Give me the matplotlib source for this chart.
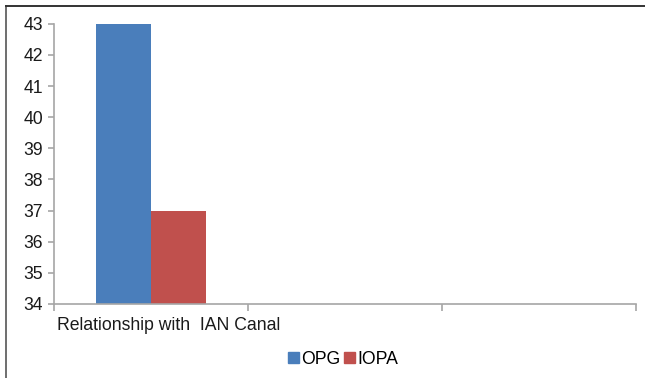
import numpy as np
import matplotlib.pyplot as plt
from matplotlib.lines import Line2D
from matplotlib.patches import Patch

plt.rcParams['font.family'] = ['Liberation Sans', 'DejaVu Sans']

# data
categories = ["Relationship with  IAN Canal", "", ""]
series = ["OPG", "IOPA"]
opg = [43, np.nan, np.nan]
iopa = [37, np.nan, np.nan]
colors = ["#4a7ebb", "#c0504d"]

fig = plt.figure(figsize=(6.45, 3.78), dpi=100)
ax = fig.add_axes([0.0837, 0.196, 0.9023, 0.741])

x = np.arange(len(categories))
w = 0.286
ax.bar(x - w / 2, opg, w, bottom=0, color=colors[0])
ax.bar(x + w / 2, iopa, w, bottom=0, color=colors[1])

ax.set_ylim(34, 43)
ax.set_yticks(range(34, 44))
ax.set_xlim(-0.5, 2.5)
ax.set_xticks(x)
ax.set_xticklabels([""] * len(categories))
ax.set_xticks(np.arange(-0.5, 2.6, 1), minor=True)

# category labels sit slightly right of the category centre in the original
for xi, lab in zip(x, categories):
    ax.text(xi - 0.485, -0.048, lab, transform=ax.get_xaxis_transform(),
            ha="left", va="top", fontsize=12.7, color="#1a1a1a")

for s in ["top", "right"]:
    ax.spines[s].set_visible(False)
for s in ["left", "bottom"]:
    ax.spines[s].set_color("#a6a6a6")
    ax.spines[s].set_linewidth(1.2)

ax.tick_params(axis="y", labelsize=12.7, colors="#a6a6a6", labelcolor="#1a1a1a",
               length=4, width=1.2, pad=4)
ax.tick_params(axis="x", which="major", length=0)
ax.tick_params(axis="x", which="minor", length=5, width=1.2, colors="#a6a6a6")

handles = [Patch(color=c, label=s) for c, s in zip(colors, series)]
fig.legend(handles=handles, loc="center", bbox_to_anchor=(0.532, 0.05), ncol=2,
           frameon=False, fontsize=12.7, handlelength=0.6, handleheight=0.6,
           handletextpad=0.15, columnspacing=0.2)

# chart area border (left and top only visible)
fig.add_artist(Line2D([6 / 645, 6 / 645], [0, 1 - 6 / 378], transform=fig.transFigure,
                      color="#555555", linewidth=1.2))
fig.add_artist(Line2D([6 / 645, 1], [1 - 6 / 378, 1 - 6 / 378], transform=fig.transFigure,
                      color="#333333", linewidth=1.4))

fig.savefig("out.png", dpi=100)
